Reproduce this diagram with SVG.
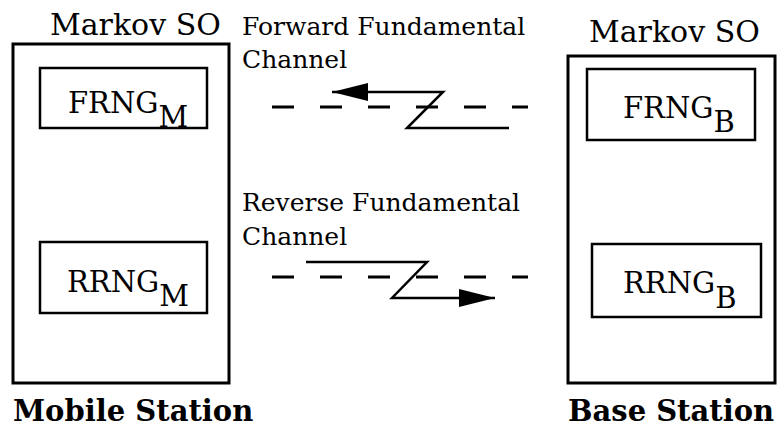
<svg xmlns="http://www.w3.org/2000/svg" width="779" height="428" viewBox="0 0 779 428">
<style>
.box{fill:none;stroke:#000;stroke-width:3}
.inner{fill:none;stroke:#000;stroke-width:2.5}
.t{font-family:"DejaVu Serif","Liberation Serif",serif;fill:#000}
.big{font-size:30px}
.lbl{font-size:25px}
.rng{font-size:29px}
.bold{font-family:"DejaVu Serif","Liberation Serif",serif;font-weight:bold;font-size:29px}
.dash{stroke:#000;stroke-width:3;stroke-dasharray:22 26;fill:none}
.ln{stroke:#000;stroke-width:2.5;fill:none}
</style>
<defs>
<marker id="ah" markerWidth="36" markerHeight="18" refX="36" refY="9" orient="auto" markerUnits="userSpaceOnUse">
<path d="M0,0 L36,9 L0,18 Z" fill="#000"/>
</marker>
</defs>
<rect width="779" height="428" fill="#fff"/>
<g id="mobile">
<rect class="box" x="13" y="44" width="216" height="339"/>
<text class="t big" x="50" y="35">Markov SO</text>
<text class="bold" x="13" y="421">Mobile Station</text>
</g>
<g id="frng_m">
<rect class="inner" x="40" y="68" width="167" height="60"/>
<text class="t rng" x="68" y="113">FRNG<tspan dy="14">M</tspan></text>
</g>
<g id="rrng_m">
<rect class="inner" x="40" y="242" width="167" height="71"/>
<text class="t rng" x="67" y="292">RRNG<tspan dy="14">M</tspan></text>
</g>
<g id="base">
<rect class="box" x="568" y="56" width="207" height="327"/>
<text class="t big" x="589" y="42">Markov SO</text>
<text class="bold" x="568" y="421">Base Station</text>
</g>
<g id="frng_b">
<rect class="inner" x="587" y="69" width="168" height="71"/>
<text class="t rng" x="623" y="118">FRNG<tspan dy="14">B</tspan></text>
</g>
<g id="rrng_b">
<rect class="inner" x="592" y="244" width="169" height="73"/>
<text class="t rng" x="623" y="293">RRNG<tspan dy="15">B</tspan></text>
</g>
<g id="labels">
<text class="t lbl" x="242" y="35">Forward Fundamental</text>
<text class="t lbl" x="242" y="68">Channel</text>
<text class="t lbl" x="242" y="211">Reverse Fundamental</text>
<text class="t lbl" x="242" y="245">Channel</text>
</g>
<g id="connectors">
<line class="dash" x1="272" y1="107" x2="528" y2="107"/>
<polyline class="ln" points="509,128 407,128 443,92 332,92" marker-end="url(#ah)"/>
<line class="dash" x1="272" y1="277" x2="528" y2="277"/>
<polyline class="ln" points="306,262 427,262 392,298 495,298" marker-end="url(#ah)"/>
</g>
</svg>
